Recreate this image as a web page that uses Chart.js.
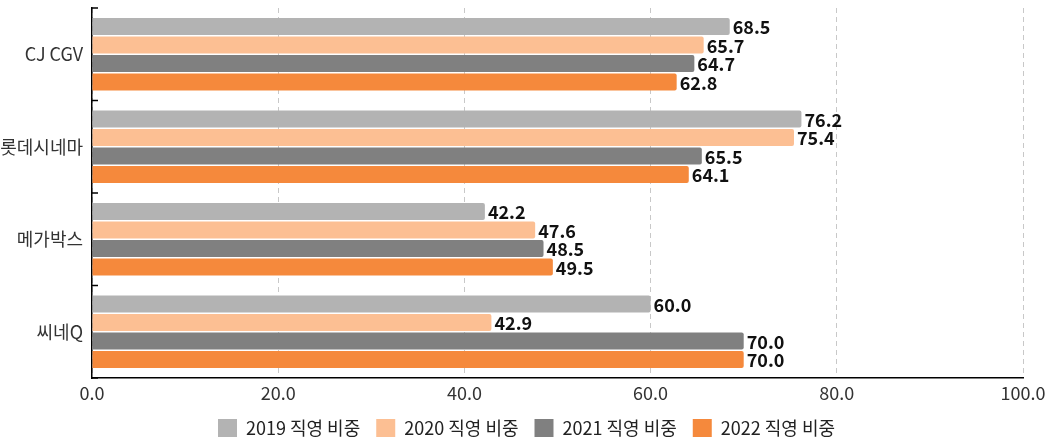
<!DOCTYPE html>
<html>
<head>
<meta charset="utf-8">
<script src="https://cdn.jsdelivr.net/npm/chart.js@4.4.0/dist/chart.umd.min.js"></script>
<style>
  html, body { margin: 0; padding: 0; background: #fff; }
  #wrap { width: 1053px; height: 439px; }
</style>
</head>
<body>
<div id="wrap"><canvas id="chart"></canvas></div>
<script>
const categories = ["CJ CGV", "롯데시네마", "메가박스", "씨네Q"];
const seriesNames = ["2019 직영 비중", "2020 직영 비중", "2021 직영 비중", "2022 직영 비중"];
const values2019 = [68.5, 76.2, 42.2, 60.0];
const values2020 = [65.7, 75.4, 47.6, 42.9];
const values2021 = [64.7, 65.5, 48.5, 70.0];
const values2022 = [62.8, 64.1, 49.5, 70.0];
const colors = ["#b3b3b3", "#fcbf93", "#808080", "#f5893c"];

const FONT = "'Noto Sans CJK KR', 'Noto Sans', sans-serif";

// value labels at the end of each bar
const valueLabels = {
  id: "valueLabels",
  afterDatasetsDraw(chart) {
    const ctx = chart.ctx;
    ctx.save();
    ctx.font = "bold 18px " + FONT;
    ctx.fillStyle = "#111";
    ctx.textAlign = "left";
    ctx.textBaseline = "middle";
    chart.data.datasets.forEach((ds, i) => {
      chart.getDatasetMeta(i).data.forEach((bar, j) => {
        ctx.fillText(ds.data[j].toFixed(1), bar.x + 3, bar.y + 1);
      });
    });
    ctx.restore();
  }
};

// small inward ticks on the category axis between groups
const categoryTicks = {
  id: "categoryTicks",
  afterDraw(chart) {
    const y = chart.scales.y;
    const ctx = chart.ctx;
    const x0 = chart.chartArea.left;
    ctx.save();
    ctx.strokeStyle = "#000";
    ctx.lineWidth = 1.5;
    for (let i = 0; i <= categories.length; i++) {
      const py = y.getPixelForValue(i - 0.5);
      ctx.beginPath();
      ctx.moveTo(x0, py);
      ctx.lineTo(x0 + 6, py);
      ctx.stroke();
    }
    ctx.restore();
  }
};

// fixed legend height so the plot area lines up
const legendHeight = {
  id: "legendHeight",
  beforeInit(chart) {
    const legend = chart.legend;
    const fit = legend.fit;
    legend.fit = function () {
      fit.call(this);
      this.height = 36;
    };
  }
};

const datasets = [values2019, values2020, values2021, values2022].map((vals, i) => ({
  label: seriesNames[i],
  data: vals,
  backgroundColor: colors[i],
  borderWidth: 0,
  borderRadius: 2,
  borderSkipped: "start",
  categoryPercentage: 0.8,
  barPercentage: 0.92,
}));

new Chart(document.getElementById("chart"), {
  type: "bar",
  data: { labels: categories, datasets },
  options: {
    indexAxis: "y",
    responsive: true,
    maintainAspectRatio: false,
    animation: false,
    layout: { padding: { top: 8, right: 0, left: 0, bottom: 0 } },
    plugins: {
      legend: {
        position: "bottom",
        labels: {
          boxWidth: 19,
          boxHeight: 18,
          padding: 16,
          color: "#222",
          font: { family: FONT, size: 18 },
        },
      },
      tooltip: { enabled: false },
    },
    scales: {
      x: {
        min: 0,
        max: 100,
        ticks: {
          stepSize: 20,
          padding: 4,
          color: "#333",
          font: { family: FONT, size: 18 },
          callback: (v) => v.toFixed(1),
        },
        grid: { color: "#c8c8c8", drawTicks: false },
        border: { display: true, color: "#000", width: 1.5, dash: [5, 4] },
        afterFit: (s) => { s.height = 25; s.paddingRight = 30; },
      },
      y: {
        ticks: {
          padding: 9,
          color: "#333",
          font: { family: FONT, size: 18 },
        },
        grid: { display: false, drawTicks: false },
        border: { display: true, color: "#000", width: 1.5 },
        afterFit: (s) => { s.width = 92; s.paddingTop = 0; s.paddingBottom = 0; },
      },
    },
  },
  plugins: [valueLabels, categoryTicks, legendHeight],
});
</script>
</body>
</html>
